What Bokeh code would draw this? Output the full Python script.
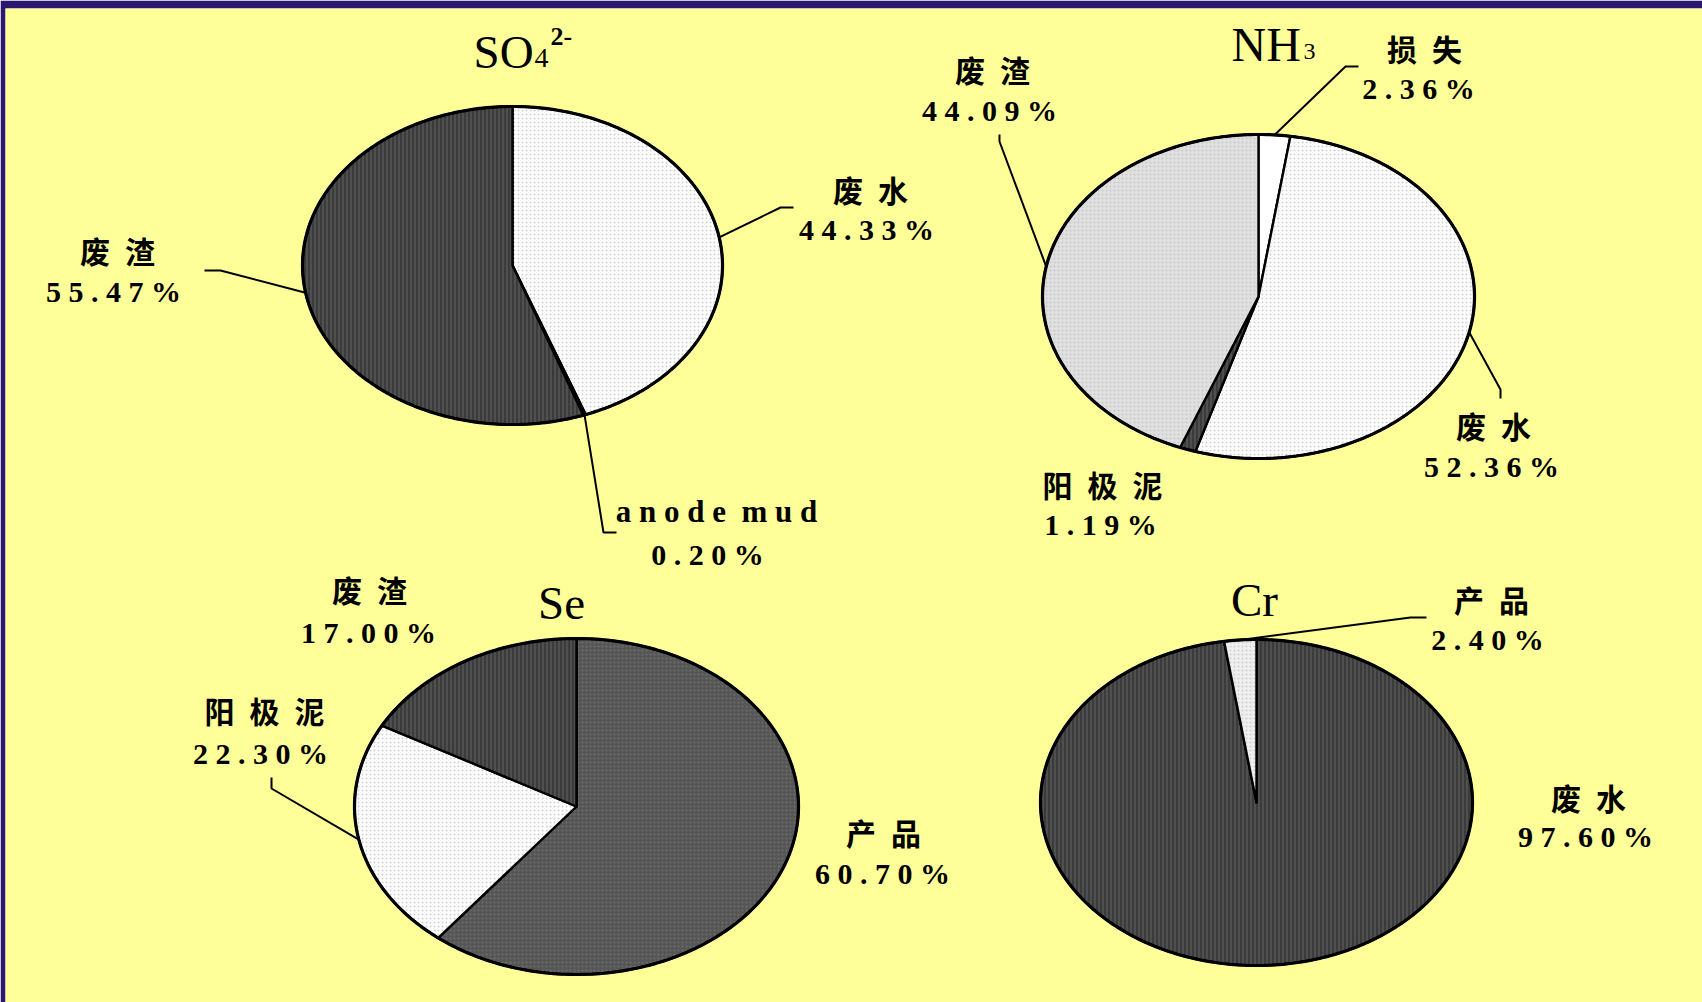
import numpy as np
from bokeh.plotting import figure
from bokeh.models import Range1d, ColumnDataSource
from bokeh.core.properties import value
from bokeh.embed import file_html
from bokeh.resources import INLINE

# ---------------- data ----------------
so4_names = ["废水", "anode mud", "废渣"]
so4_values = [44.33, 0.20, 55.47]

nh3_names = ["损失", "废水", "阳极泥", "废渣"]
nh3_values = [2.36, 52.36, 1.19, 44.09]

se_names = ["产品", "阳极泥", "废渣"]
se_values = [60.70, 22.30, 17.00]

cr_names = ["废水", "产品"]
cr_values = [97.60, 2.40]

title_main = ["SO", "NH", "Se", "Cr"]
title_sub = ["4", "3", "", ""]
title_sup = ["2-", "", "", ""]

# ---------------- styles / layout ----------------
DARK = ("#3b3b3b", "vertical_line", "#5c5c5c")
LIGHT = ("#ffffff", "dot", "#cfcfcf")
PLAIN = ("#ffffff", "blank", "#ffffff")
GRAY = ("#e0e0e0", "dot", "#c8c8c8")
MID = ("#565656", "dot", "#6e6e6e")
SLIVER = ("#efefef", "dot", "#d0d0d0")

pies = [
    dict(names=so4_names, values=so4_values, cx=512, cy=265, rx=210, ry=159,
         styles=[LIGHT, DARK, DARK],
         name_pos=[(870, 188), (716, 511), (117, 249)],
         pct_pos=[(866, 229), (707, 554), (113, 291)],
         leaders=[[(780, 207), (793, 207)], [(603, 532), (616, 532)], [(220, 270), (204, 270)]]),
    dict(names=nh3_names, values=nh3_values, cx=1258, cy=296, rx=216, ry=162,
         styles=[PLAIN, LIGHT, DARK, GRAY],
         name_pos=[(1424, 47), (1493, 424), (1102, 483), (992, 68)],
         pct_pos=[(1418, 88), (1491, 466), (1100, 524), (989, 110)],
         leaders=[[(1345, 66), (1358, 66)], [(1500, 389), (1500, 398)], None, [(999, 141), (999, 134)]]),
    dict(names=se_names, values=se_values, cx=576, cy=806, rx=222, ry=168,
         styles=[MID, LIGHT, DARK],
         name_pos=[(883, 831), (264, 709), (369, 588)],
         pct_pos=[(882, 873), (260, 753), (368, 632)],
         leaders=[None, [(271, 788), (271, 777)], None]),
    dict(names=cr_names, values=cr_values, cx=1256, cy=802, rx=216, ry=163,
         styles=[DARK, SLIVER],
         name_pos=[(1588, 796), (1491, 598)],
         pct_pos=[(1585, 836), (1487, 639)],
         leaders=[None, [(1410, 617), (1426, 617)]]),
]

# (x, vertical centre y, size, align)
title_layout = [
    dict(main=(473, 51, "47px", "left"), sub=(534, 57, "28px"), sup=(550, 36, "26px")),
    dict(main=(1231, 44, "48px", "left"), sub=(1303, 51, "24px"), sup=None),
    dict(main=(561, 602, "47px", "center"), sub=None, sup=None),
    dict(main=(1254, 599, "47px", "center"), sub=None, sup=None),
]

W, H = 1702, 1002
p = figure(width=W, height=H, x_range=Range1d(5, W), y_range=Range1d(H, 8),
           output_backend="svg", toolbar_location=None,
           x_axis_location=None, y_axis_location=None,
           min_border_left=5, min_border_top=8, min_border_right=0, min_border_bottom=0,
           background_fill_color="#FFFF99", border_fill_color="#2A1870")
p.grid.visible = False
p.outline_line_color = None


def ell(cx, cy, rx, ry, t):
    t = np.radians(t)
    return cx + rx * np.sin(t), cy - ry * np.cos(t)


def spaced_pct(v):
    return " ".join(f"{v:.2f}%")


def spaced_name(s):
    if s.isascii():
        return "\u2002".join(" ".join(w) for w in s.split())
    return "\u2002".join(s)


cjk = dict(x=[], y=[], text=[])
lat = dict(x=[], y=[], text=[])
pct = dict(x=[], y=[], text=[])
lead_x, lead_y = [], []

for pie in pies:
    vals = np.array(pie["values"], dtype=float)
    frac = vals / vals.sum() * 360.0
    ends = np.cumsum(frac)
    starts = ends - frac
    cx, cy, rx, ry = pie["cx"], pie["cy"], pie["rx"], pie["ry"]
    xs, ys = [], []
    for s, e in zip(starts, ends):
        n = max(int(e - s) + 2, 3)
        ex, ey = ell(cx, cy, rx, ry, np.linspace(s, e, n))
        xs.append([cx] + ex.tolist())
        ys.append([cy] + ey.tolist())
    src = ColumnDataSource(dict(xs=xs, ys=ys,
                                fill=[st[0] for st in pie["styles"]],
                                hatch=[st[1] for st in pie["styles"]],
                                hcol=[st[2] for st in pie["styles"]]))
    p.patches("xs", "ys", source=src, fill_color="fill", hatch_pattern="hatch",
              hatch_color="hcol", hatch_scale=4, hatch_weight=1.2,
              line_color="black", line_width=2.4, line_join="round")
    ox, oy = ell(cx, cy, rx, ry, np.linspace(0, 360, 361))
    p.line(ox, oy, line_color="black", line_width=3.2)

    for i, name in enumerate(pie["names"]):
        nx, ny = pie["name_pos"][i]
        target = lat if name.isascii() else cjk
        target["x"].append(nx); target["y"].append(ny); target["text"].append(spaced_name(name))
        px, py = pie["pct_pos"][i]
        pct["x"].append(px); pct["y"].append(py); pct["text"].append(spaced_pct(pie["values"][i]))
        if pie["leaders"][i]:
            mx, my = ell(cx, cy, rx, ry, (starts[i] + ends[i]) / 2)
            lead_x.append([float(mx)] + [pt[0] for pt in pie["leaders"][i]])
            lead_y.append([float(my)] + [pt[1] for pt in pie["leaders"][i]])

p.multi_line(lead_x, lead_y, line_color="black", line_width=2)

p.text(x="x", y="y", text="text", source=ColumnDataSource(cjk), text_align="center",
       text_baseline="middle", text_font=value("Noto Sans CJK SC"), text_font_style="bold",
       text_font_size="30px", text_color="black")
p.text(x="x", y="y", text="text", source=ColumnDataSource(lat), text_align="center",
       text_baseline="middle", text_font=value("Liberation Serif"), text_font_style="bold",
       text_font_size="31px", text_color="black")
p.text(x="x", y="y", text="text", source=ColumnDataSource(pct), text_align="center",
       text_baseline="middle", text_font=value("Liberation Serif"), text_font_style="bold",
       text_font_size="30px", text_color="black")

# titles
for i, lay in enumerate(title_layout):
    x, y, fs, align = lay["main"]
    p.text(x=[x], y=[y], text=[title_main[i]], text_align=align, text_baseline="middle",
           text_font=value("Liberation Serif"), text_font_size=fs, text_color="black")
    if lay["sub"] and title_sub[i]:
        x, y, fs = lay["sub"]
        p.text(x=[x], y=[y], text=[title_sub[i]], text_align="left", text_baseline="middle",
               text_font=value("Liberation Serif"), text_font_size=fs, text_color="black")
    if lay["sup"] and title_sup[i]:
        x, y, fs = lay["sup"]
        p.text(x=[x], y=[y], text=[title_sup[i]], text_align="left", text_baseline="middle",
               text_font=value("Liberation Serif"), text_font_style="bold", text_font_size=fs,
               text_color="black")

open("out.html", "w").write(file_html(p, INLINE))
